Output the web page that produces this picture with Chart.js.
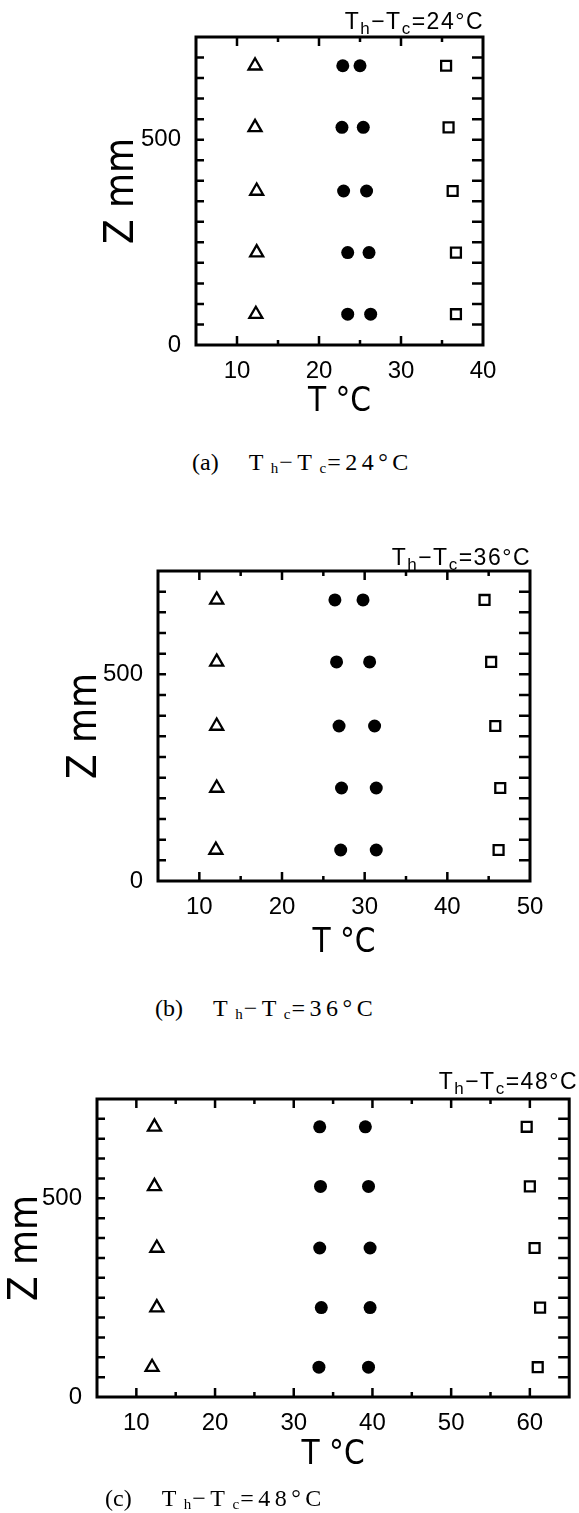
<!DOCTYPE html>
<html>
<head>
<meta charset="utf-8">
<script src="https://cdn.jsdelivr.net/npm/chart.js@4.4.1/dist/chart.umd.min.js"></script>
<style>
  html, body { margin: 0; padding: 0; background: #fff; }
  body { width: 579px; height: 1513px; position: relative; overflow: hidden; }
  canvas { position: absolute; left: 0; }
  .tag {
    position: absolute;
    font-family: "Liberation Sans", Arial, sans-serif;
    font-size: 23px;
    letter-spacing: 1.5px;
    line-height: 1;
    white-space: nowrap;
    color: #000;
  }
  .tag sub { font-size: 17px; vertical-align: -5px; line-height: 0; }
  .cap {
    position: absolute;
    font-family: "Liberation Serif", "Times New Roman", serif;
    font-size: 24px;
    line-height: 1;
    white-space: nowrap;
    color: #000;
  }
  .cap .eq { margin-left: 30px; letter-spacing: 4.5px; }
  .cap sub { font-size: 15px; vertical-align: -3px; line-height: 0; letter-spacing: 0; margin-left: 3px; margin-right: 1px; }
</style>
</head>
<body>
<canvas id="chartA" width="579" height="430" style="top:0px"></canvas>
<canvas id="chartB" width="579" height="450" style="top:520px"></canvas>
<canvas id="chartC" width="579" height="440" style="top:1050px"></canvas>

<div class="tag" style="right:95px; top:10px">T<sub>h</sub>−T<sub>c</sub>=24°C</div>
<div class="tag" style="right:48px; top:546px">T<sub>h</sub>−T<sub>c</sub>=36°C</div>
<div class="tag" style="right:1px; top:1070px">T<sub>h</sub>−T<sub>c</sub>=48°C</div>

<div class="cap" style="left:192px; top:450px">(a)<span class="eq">T<sub>h</sub>−T<sub>c</sub>=24°C</span></div>
<div class="cap" style="left:155px; top:996px">(b)<span class="eq">T<sub>h</sub>−T<sub>c</sub>=36°C</span></div>
<div class="cap" style="left:105px; top:1486px">(c)<span class="eq">T<sub>h</sub>−T<sub>c</sub>=48°C</span></div>

<script>
// measuring heights, bottom to top
const Z_MM = [75, 225, 375, 530, 680];
const Z_RANGE = [0, 750];
const Z_LABELS = [0, 500];

// (a) Th - Tc = 24°C
const A_COLD = [12.3, 12.4, 12.4, 12.2, 12.2];
const A_MID1 = [23.5, 23.5, 23.0, 22.8, 22.9];
const A_MID2 = [26.3, 26.1, 25.8, 25.4, 25.0];
const A_HOT = [36.7, 36.7, 36.3, 35.8, 35.5];
const A_T_RANGE = [5, 40];
const A_T_LABELS = [10, 20, 30, 40];

// (b) Th - Tc = 36°C
const B_COLD = [12.0, 12.1, 12.1, 12.1, 12.1];
const B_MID1 = [27.1, 27.2, 26.9, 26.6, 26.4];
const B_MID2 = [31.4, 31.4, 31.2, 30.6, 29.8];
const B_HOT = [46.2, 46.4, 45.8, 45.3, 44.5];
const B_T_RANGE = [5, 50];
const B_T_LABELS = [10, 20, 30, 40, 50];

// (c) Th - Tc = 48°C
const C_COLD = [12.0, 12.6, 12.6, 12.3, 12.3];
const C_MID1 = [33.2, 33.5, 33.3, 33.4, 33.3];
const C_MID2 = [39.5, 39.7, 39.7, 39.5, 39.1];
const C_HOT = [61.0, 61.3, 60.6, 60.0, 59.6];
const C_T_RANGE = [5, 65];
const C_T_LABELS = [10, 20, 30, 40, 50, 60];

const SANS = "'Liberation Sans', Arial, sans-serif";
const NARROW = "'Liberation Sans Narrow', 'Arial Narrow', 'DejaVu Sans Condensed', sans-serif";

const toPoints = (xs) => xs.map((x, i) => ({ x, y: Z_MM[i] }));

// closed frame with inward ticks on all four sides
const frameTicks = {
  id: "frameTicks",
  afterDraw(chart) {
    const { ctx, chartArea, scales } = chart;
    const { left, right, top, bottom } = chartArea;
    const x = scales.x;
    const y = scales.y;
    ctx.save();
    ctx.strokeStyle = "#000";
    ctx.lineWidth = 2.5;
    ctx.beginPath();
    x.ticks.forEach((t) => {
      const px = x.getPixelForValue(t.value);
      if (px <= left + 2 || px >= right - 2) return;
      const len = t.value % 10 === 0 ? 9 : 5;
      ctx.moveTo(px, bottom);
      ctx.lineTo(px, bottom - len);
      ctx.moveTo(px, top);
      ctx.lineTo(px, top + len);
    });
    y.ticks.forEach((t) => {
      const py = y.getPixelForValue(t.value);
      if (py <= top + 2 || py >= bottom - 2) return;
      ctx.moveTo(left, py);
      ctx.lineTo(left + 8, py);
      ctx.moveTo(right, py);
      ctx.lineTo(right - 11, py);
    });
    ctx.stroke();
    ctx.lineWidth = 3;
    ctx.strokeRect(left, top, right - left, bottom - top);
    ctx.restore();
  },
};

function makePanel(id, opt) {
  const datasets = [
    {
      data: toPoints(opt.cold),
      pointStyle: "triangle",
      pointRadius: 7.5,
      borderWidth: 2.3,
      borderColor: "#000",
      backgroundColor: "#fff",
    },
    {
      data: toPoints(opt.mid1),
      pointStyle: "circle",
      pointRadius: 6.5,
      borderWidth: 0,
      backgroundColor: "#000",
    },
    {
      data: toPoints(opt.mid2),
      pointStyle: "circle",
      pointRadius: 6.5,
      borderWidth: 0,
      backgroundColor: "#000",
    },
    {
      data: toPoints(opt.hot),
      pointStyle: "rect",
      pointRadius: 7,
      borderWidth: 2.3,
      borderColor: "#000",
      backgroundColor: "#fff",
    },
  ];

  const canvas = document.getElementById(id);
  const H = canvas.height;

  return new Chart(canvas, {
    type: "scatter",
    data: { datasets },
    plugins: [frameTicks],
    options: {
      responsive: false,
      animation: false,
      devicePixelRatio: 1,
      events: [],
      layout: {
        padding: { left: 0, top: opt.area.top, right: 579 - opt.area.right, bottom: 0 },
      },
      plugins: { legend: { display: false }, tooltip: { enabled: false } },
      scales: {
        x: {
          type: "linear",
          min: opt.tRange[0],
          max: opt.tRange[1],
          grid: { display: false },
          border: { display: false },
          ticks: {
            stepSize: 5,
            autoSkip: false,
            maxRotation: 0,
            padding: 4,
            color: "#000",
            font: { family: SANS, size: 24 },
            callback: (v) => (opt.tLabels.includes(v) ? String(v) : ""),
          },
          title: {
            display: true,
            text: "T °C",
            color: "#000",
            font: { family: NARROW, size: 33 },
            padding: { top: 0, bottom: opt.xTitlePad },
          },
          afterFit: (s) => {
            s.height = H - opt.area.bottom;
          },
        },
        y: {
          type: "linear",
          min: Z_RANGE[0],
          max: Z_RANGE[1],
          grid: { display: false },
          border: { display: false },
          ticks: {
            stepSize: 50,
            autoSkip: false,
            padding: 7,
            color: "#000",
            font: { family: SANS, size: 24 },
            callback: (v) => (Z_LABELS.includes(v) ? String(v) : ""),
          },
          title: {
            display: true,
            text: "Z mm",
            color: "#000",
            font: { family: NARROW, size: 40 },
            padding: { top: opt.yTitlePad, bottom: 0 },
          },
          afterFit: (s) => {
            s.width = opt.area.left;
          },
        },
      },
    },
  });
}

makePanel("chartA", {
  cold: A_COLD, mid1: A_MID1, mid2: A_MID2, hot: A_HOT,
  tRange: A_T_RANGE, tLabels: A_T_LABELS,
  area: { left: 196, right: 483, top: 37, bottom: 345 },
  xTitlePad: 8, yTitlePad: 99,
});

makePanel("chartB", {
  cold: B_COLD, mid1: B_MID1, mid2: B_MID2, hot: B_HOT,
  tRange: B_T_RANGE, tLabels: B_T_LABELS,
  area: { left: 158, right: 530, top: 51, bottom: 361 },
  xTitlePad: 7, yTitlePad: 62,
});

makePanel("chartC", {
  cold: C_COLD, mid1: C_MID1, mid2: C_MID2, hot: C_HOT,
  tRange: C_T_RANGE, tLabels: C_T_LABELS,
  area: { left: 97, right: 577, top: 49, bottom: 347 },
  xTitlePad: 15, yTitlePad: 3,
});
</script>
</body>
</html>
